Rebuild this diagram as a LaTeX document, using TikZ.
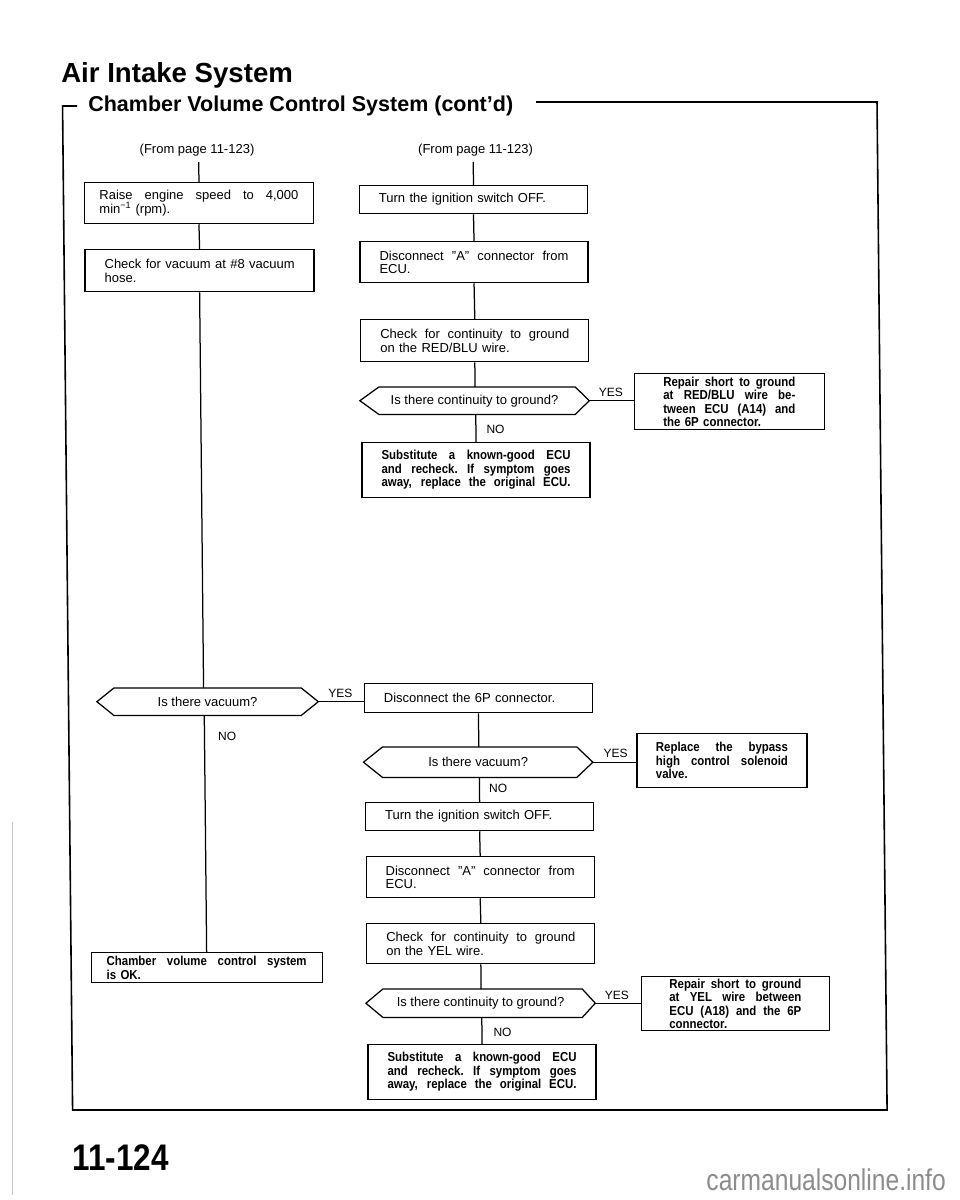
\documentclass[tikz,border=0pt]{standalone}
\usepackage{fontspec}
\setmainfont{Liberation Sans}
\newfontfamily\bxf{Liberation Sans}[FakeStretch=0.88]
\usepackage{graphicx}
\usetikzlibrary{calc}
\newcommand\jline[2]{\makebox[#1pt][s]{\spaceskip=0.278em plus 1fil\xspaceskip=0.278em plus 1fil\relax #2}}
\newcommand\hexa[3]{\draw[conn] (#1.west) -- ([xshift=#2pt]#1.north west) -- ([xshift=-#3pt]#1.north east) -- (#1.east) -- ([xshift=-#3pt]#1.south east) -- ([xshift=#2pt]#1.south west) -- cycle;}
\tikzset{
  box/.style={draw, line width=1.25pt, anchor=north west, inner sep=0pt, align=left, font=\fontsize{13}{13.5}\selectfont},
  bbox/.style={box, font=\bxf\bfseries\fontsize{13}{13.5}\selectfont},
  dia/.style={inner sep=0pt, anchor=north west, font=\fontsize{13}{14}\selectfont},
  yn/.style={inner sep=0pt, font=\fontsize{12}{12}\selectfont},
  conn/.style={line width=1.25pt},
  lbl/.style={inner sep=0pt, anchor=base, font=\fontsize{13}{13}\selectfont}
}
\begin{document}
\begin{tikzpicture}[x=1pt,y=-1pt]
\useasboundingbox (0,0) rectangle (960,1200);
\fill[white] (0,0) rectangle (960,1200);
\draw[gray!45, line width=0.5pt] (12,822) -- (12,1195);
\node[anchor=base east, inner sep=0pt, text=black!45, font=\fontsize{30}{30}\selectfont] (wm) at (946,1190) {\scalebox{0.82}[1]{carmanualsonline.info}};
\begin{scope}[xslant=-0.01]
% titles and frame
\node[anchor=base west, inner sep=0pt, font=\bfseries\fontsize{27.6}{30}\selectfont] (title) at (60.3,82) {Air Intake System};
\node[anchor=base west, inner sep=0pt, font=\bfseries\fontsize{21.5}{24}\selectfont] (sub) at (87,111) {Chamber Volume Control System (cont’d)};
\draw[line width=1.6pt, line join=miter] (76,106) -- (61.5,106) -- (61.5,1110) -- (876,1110) -- (876,102) -- (535,102);
\node[anchor=base west, inner sep=0pt, font=\bfseries\fontsize{37}{40}\selectfont] (pg) at (60.5,1170) {\scalebox{0.85}[1]{11-124}};
% left column
\node[lbl] (fromL) at (195.5,153) {(From page 11-123)};
\node[box, minimum width=229pt, minimum height=41pt, text width=199pt] (L1) at (82,182) {\jline{199}{Raise engine speed to 4,000}\\min\textsuperscript{−1} (rpm).};
\node[box, minimum width=229pt, minimum height=42pt, text width=190pt] (L2) at (82,249) {\jline{190}{Check for vacuum at \#8 vacuum}\\hose.};
\node[dia, minimum width=221pt, minimum height=27pt] (D1L) at (90,688) {Is there vacuum?};
\node[bbox, minimum width=231pt, minimum height=30pt, text width=200pt] (L3) at (81,952) {\jline{200}{Chamber volume control system}\\is OK.};
% right column
\node[lbl] (fromR) at (474,153) {(From page 11-123)};
\node[box, minimum width=228pt, minimum height=28pt, text width=189pt] (R1) at (357,185) {Turn the ignition switch OFF.};
\node[box, minimum width=228pt, minimum height=41pt, text width=189pt] (R2) at (357,241) {\jline{189}{Disconnect ''A'' connector from}\\ECU.};
\node[box, minimum width=228pt, minimum height=42pt, text width=189pt] (R3) at (357,319) {\jline{189}{Check for continuity to ground}\\on the RED/BLU wire.};
\node[dia, minimum width=229pt, minimum height=27pt] (D1R) at (356,387) {Is there continuity to ground?};
\node[bbox, minimum width=190pt, minimum height=56pt, text width=132pt] (R4) at (630,373) {\jline{132}{Repair short to ground}\\\jline{132}{at RED/BLU wire be-}\\\jline{132}{tween ECU (A14) and}\\the 6P connector.};
\node[bbox, minimum width=228pt, minimum height=55pt, text width=189pt] (R5) at (357,442) {\jline{189}{Substitute a known-good ECU}\\\jline{189}{and recheck. If symptom goes}\\\jline{189}{away, replace the original ECU.}};
\node[box, minimum width=228pt, minimum height=29pt, text width=189pt] (R6) at (357,683) {Disconnect the 6P connector.};
\node[dia, minimum width=229pt, minimum height=30pt] (D2R) at (356,747) {Is there vacuum?};
\node[bbox, minimum width=170pt, minimum height=54pt, text width=132pt] (R7) at (629,733) {\jline{132}{Replace the bypass}\\\jline{132}{high control solenoid}\\valve.};
\node[box, minimum width=228pt, minimum height=28pt, text width=189pt] (R8) at (357,802) {Turn the ignition switch OFF.};
\node[box, minimum width=228pt, minimum height=41pt, text width=189pt] (R9) at (357,856) {\jline{189}{Disconnect ''A'' connector from}\\ECU.};
\node[box, minimum width=228pt, minimum height=40pt, text width=189pt] (R10) at (357,923) {\jline{189}{Check for continuity to ground}\\on the YEL wire.};
\node[dia, minimum width=229pt, minimum height=28pt] (D3R) at (356,989) {Is there continuity to ground?};
\node[bbox, minimum width=188pt, minimum height=54pt, text width=132pt] (R11) at (631,976) {\jline{132}{Repair short to ground}\\\jline{132}{at YEL wire between}\\\jline{132}{ECU (A18) and the 6P}\\connector.};
\node[bbox, minimum width=228pt, minimum height=55pt, text width=189pt] (R12) at (357,1044) {\jline{189}{Substitute a known-good ECU}\\\jline{189}{and recheck. If symptom goes}\\\jline{189}{away, replace the original ECU.}};
% hexagons
\hexa{D1L}{17}{17}
\hexa{D1R}{19}{14}
\hexa{D2R}{19}{16}
\hexa{D3R}{17}{13}
% YES / NO labels
\node[yn, anchor=base] (y1) at (333.5,697) {YES};
\node[yn, anchor=base west] (n1) at (210.6,740) {NO};
\node[yn, anchor=base] (y2) at (607,396) {YES};
\node[yn, anchor=base west] (n2) at (482,433) {NO};
\node[yn, anchor=base] (y3) at (608,757) {YES};
\node[yn, anchor=base west] (n3) at (481,792) {NO};
\node[yn, anchor=base] (y4) at (607,999) {YES};
\node[yn, anchor=base west] (n4) at (483,1036.5) {NO};
% connectors
\coordinate (fLb) at ([yshift=-9pt]fromL.base);
\coordinate (fRb) at ([yshift=-9pt]fromR.base);
\draw[conn] (fLb -| L1.north) -- (L1.north);
\draw[conn] (L1.south) -- (L2.north);
\draw[conn] (L2.south) -- (L2.south |- D1L.north);
\draw[conn] (L3.north |- D1L.south) -- (L3.north);
\draw[conn] (D1L.east) -- (D1L.east -| R6.west);
\draw[conn] (fRb -| R1.north) -- (R1.north);
\draw[conn] (R1.south) -- (R2.north);
\draw[conn] (R2.south) -- (R3.north);
\draw[conn] (R3.south) -- (R3.south |- D1R.north);
\draw[conn] (R5.north |- D1R.south) -- (R5.north);
\draw[conn] (D1R.east) -- (D1R.east -| R4.west);
\draw[conn] (R6.south) -- (R6.south |- D2R.north);
\draw[conn] (R8.north |- D2R.south) -- (R8.north);
\draw[conn] (D2R.east) -- (D2R.east -| R7.west);
\draw[conn] (R8.south) -- (R9.north);
\draw[conn] (R9.south) -- (R10.north);
\draw[conn] (R10.south) -- (R10.south |- D3R.north);
\draw[conn] (R12.north |- D3R.south) -- (R12.north);
\draw[conn] (D3R.east) -- (D3R.east -| R11.west);
\end{scope}
\end{tikzpicture}
\end{document}
